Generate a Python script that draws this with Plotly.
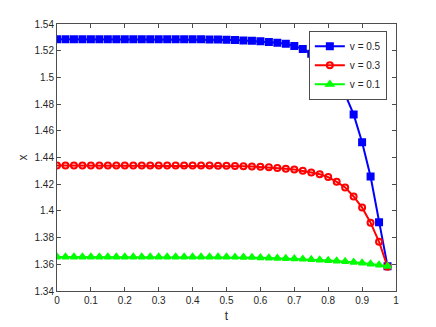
import plotly.graph_objects as go

# time samples (markers every 0.025, last at 0.975)
t = [round(0.025 * i, 3) for i in range(40)]

x_v05 = [1.5285] * 17 + [
    1.5285, 1.5284, 1.5283, 1.5282, 1.5280, 1.5277, 1.5274, 1.5270,
    1.5265, 1.5260, 1.5252, 1.5236, 1.5212, 1.5178, 1.5133, 1.5070,
    1.4991, 1.4873, 1.4723, 1.4514, 1.4258, 1.3915, 1.3586,
]

x_v03 = [1.4340] * 19 + [
    1.4339, 1.4338, 1.4337, 1.4335, 1.4333, 1.4330, 1.4327, 1.4322,
    1.4316, 1.4310, 1.4300, 1.4288, 1.4274, 1.4253, 1.4218, 1.4176,
    1.4108, 1.4025, 1.3912, 1.3769, 1.3581,
]

x_v01 = [1.3655] * 21 + [
    1.3654, 1.3653, 1.3652, 1.3650, 1.3648, 1.3646, 1.3644, 1.3642,
    1.3639, 1.3636, 1.3633, 1.3629, 1.3625, 1.3621, 1.3616, 1.3610,
    1.3603, 1.3595, 1.3586,
]

x_ticks = [0, 0.1, 0.2, 0.3, 0.4, 0.5, 0.6, 0.7, 0.8, 0.9, 1]
x_ticklabels = ["0", "0.1", "0.2", "0.3", "0.4", "0.5", "0.6", "0.7", "0.8", "0.9", "1"]
y_ticks = [1.34, 1.36, 1.38, 1.40, 1.42, 1.44, 1.46, 1.48, 1.50, 1.52, 1.54]
y_ticklabels = ["1.34", "1.36", "1.38", "1.4", "1.42", "1.44", "1.46", "1.48", "1.5", "1.52", "1.54"]

series = [
    ("v = 0.5", x_v05, "#0000ff", "square"),
    ("v = 0.3", x_v03, "#ff0000", "circle-open"),
    ("v = 0.1", x_v01, "#00ff00", "triangle-up"),
]

fig = go.Figure()
for name, vals, color, symbol in series:
    fig.add_trace(go.Scatter(
        x=t, y=vals, name=name, mode="lines+markers",
        line=dict(color=color, width=2),
        marker=dict(symbol=symbol, size=6, color=color, line=dict(color=color, width=2)),
    ))

axis_style = dict(
    showgrid=False, zeroline=False, showline=True, mirror="ticks",
    linecolor="#4d4d4d", linewidth=1, ticks="inside", ticklen=4,
    tickcolor="#4d4d4d", tickfont=dict(size=10, color="#262626"),
    automargin=False,
)

# page body adds an 8px offset, margins account for it
fig.update_layout(
    width=436, height=327,
    margin=dict(l=49, r=48, t=16, b=44),
    paper_bgcolor="white", plot_bgcolor="white",
    font=dict(family="Liberation Sans, Arial, sans-serif", size=10, color="#262626"),
    xaxis=dict(range=[0, 1], tickvals=x_ticks, ticktext=x_ticklabels,
               title=dict(text="t", standoff=6), **axis_style),
    yaxis=dict(range=[1.34, 1.54], tickvals=y_ticks, ticktext=y_ticklabels,
               title=dict(text="x", standoff=4), **axis_style),
    legend=dict(x=0.973, y=0.975, xanchor="right", yanchor="top",
                bgcolor="white", bordercolor="#4d4d4d", borderwidth=1,
                font=dict(size=10, color="#262626"), tracegroupgap=0),
    showlegend=True,
)

fig.write_html("out.html")
